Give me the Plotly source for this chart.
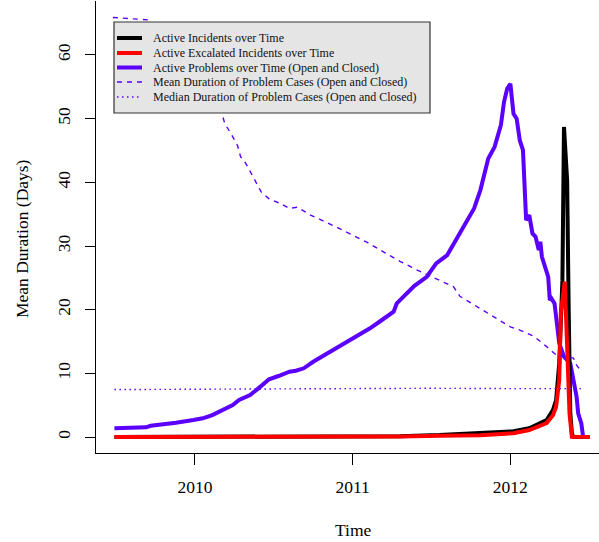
import plotly.graph_objects as go

# ---- data (decimal years, values) ----
problems_t = [2009.49, 2009.69, 2009.72, 2009.82, 2009.88, 2009.99, 2010.05, 2010.11, 2010.18,
              2010.24, 2010.28, 2010.35, 2010.41, 2010.47, 2010.53, 2010.60, 2010.64, 2010.69,
              2010.75, 2010.84, 2010.92, 2011.03, 2011.11, 2011.17, 2011.26, 2011.28, 2011.34,
              2011.39, 2011.47, 2011.53, 2011.60, 2011.66, 2011.70, 2011.77, 2011.81, 2011.84,
              2011.86, 2011.90, 2011.94, 2011.96, 2011.98, 2012.00, 2012.01, 2012.02, 2012.04,
              2012.06, 2012.08, 2012.09, 2012.10, 2012.12, 2012.14, 2012.16, 2012.18, 2012.19,
              2012.20, 2012.22, 2012.24, 2012.25, 2012.26, 2012.28, 2012.29, 2012.31, 2012.34,
              2012.38, 2012.40, 2012.42, 2012.43, 2012.45, 2012.46]
problems_v = [1.37, 1.52, 1.77, 1.99, 2.24, 2.67, 2.94, 3.45, 4.24,
              5.02, 5.81, 6.59, 7.80, 9.06, 9.58, 10.25, 10.41, 10.79,
              11.82, 13.14, 14.18, 15.75, 17.07, 18.10, 19.67, 20.99, 22.56,
              23.71, 25.17, 27.27, 28.57, 31.19, 32.76, 35.90, 38.78, 41.92,
              43.75, 45.57, 48.98, 52.64, 54.74, 55.48, 52.34, 50.77, 49.98,
              46.58, 45.05, 37.72, 34.06, 34.85, 31.97, 31.44, 29.35, 30.66,
              28.30, 26.73, 25.16, 21.50, 21.77, 20.99, 18.88, 14.71, 12.60,
              11.56, 8.93, 6.31, 3.71, 2.14, 0.27]

incidents_t = [2009.49, 2010.5, 2011.0, 2011.3, 2011.55, 2011.81, 2012.02, 2012.12, 2012.23,
               2012.27, 2012.29, 2012.31, 2012.315, 2012.32, 2012.33, 2012.34, 2012.36, 2012.37,
               2012.38, 2012.39, 2012.40, 2012.505]
incidents_v = [0, 0.02, 0.05, 0.12, 0.3, 0.58, 0.9, 1.37, 2.67,
               4.24, 5.8, 11.6, 14.2, 19.5, 24.6, 48.7, 40.3, 19.5,
               3.8, 0.6, 0, 0]

escalated_t = [2009.49, 2010.5, 2011.0, 2011.3, 2011.55, 2011.81, 2012.02, 2012.12, 2012.23,
               2012.27, 2012.29, 2012.31, 2012.32, 2012.345, 2012.36, 2012.375, 2012.39, 2012.505]
escalated_v = [0, 0.01, 0.03, 0.08, 0.2, 0.27, 0.6, 1.1, 2.2,
               3.4, 4.76, 8.95, 19.5, 24.4, 14.2, 3.7, 0.05, 0]

mean_t = [2009.48, 2009.71, 2009.78, 2009.91, 2010.03, 2010.13, 2010.17, 2010.19, 2010.23,
          2010.27, 2010.29, 2010.31, 2010.34, 2010.38, 2010.42, 2010.47, 2010.54, 2010.60,
          2010.65, 2010.73, 2010.84, 2010.92, 2011.01, 2011.09, 2011.20, 2011.30, 2011.41,
          2011.49, 2011.60, 2011.64, 2011.68, 2011.74, 2011.83, 2011.91, 2012.00, 2012.06,
          2012.15, 2012.23, 2012.29, 2012.35, 2012.40, 2012.42, 2012.45]
mean_v = [65.9, 65.5, 63.9, 60.8, 56.8, 52.9, 50.9, 49.2, 47.6,
          45.8, 44.0, 43.5, 42.2, 40.3, 38.5, 37.4, 36.7, 35.9,
          36.1, 34.9, 33.7, 32.7, 31.6, 30.6, 29.0, 27.6, 26.2,
          25.3, 24.1, 23.6, 22.1, 21.2, 19.9, 18.6, 17.3, 16.8,
          15.8, 14.2, 12.9, 12.6, 12.4, 11.3, 10.3]

median_t = [2009.49, 2010.0, 2010.5, 2011.0, 2011.5, 2012.0, 2012.45]
median_v = [7.45, 7.5, 7.6, 7.65, 7.65, 7.6, 7.6]

x_ticks = [2010, 2011, 2012]
x_tick_labels = ["2010", "2011", "2012"]
y_ticks = [0, 10, 20, 30, 40, 50, 60]

legend_labels = ["Active Incidents over Time",
                 "Active Excalated Incidents over Time",
                 "Active Problems over Time (Open and Closed)",
                 "Mean Duration of Problem Cases (Open and Closed)",
                 "Median Duration of Problem Cases (Open and Closed)"]

BLUE = "#5b00ff"
FONT = "Liberation Serif"
styles = {
    "inc": dict(color="black", width=4),
    "esc": dict(color="red", width=4),
    "prob": dict(color=BLUE, width=4),
    "mean": dict(color=BLUE, width=1.4, dash="5px,5px"),
    "med": dict(color=BLUE, width=1.4, dash="1.5px,3.5px"),
}

fig = go.Figure()
fig.add_trace(go.Scatter(x=problems_t, y=problems_v, mode="lines", name=legend_labels[2],
                         line=styles["prob"]))
fig.add_trace(go.Scatter(x=incidents_t, y=incidents_v, mode="lines", name=legend_labels[0],
                         line=styles["inc"]))
fig.add_trace(go.Scatter(x=escalated_t, y=escalated_v, mode="lines", name=legend_labels[1],
                         line=styles["esc"]))
fig.add_trace(go.Scatter(x=mean_t, y=mean_v, mode="lines", name=legend_labels[3],
                         line=styles["mean"]))
fig.add_trace(go.Scatter(x=median_t, y=median_v, mode="lines", name=legend_labels[4],
                         line=styles["med"]))

# ---- R-style legend box (paper coordinates) ----
L, R_, T, B = 96, 599, 1, 453   # plot area in pixels
def px(xp):
    return (xp - L) / (R_ - L)
def py(yp):
    return (B - yp) / (B - T)

shapes = [dict(type="rect", xref="paper", yref="paper",
               x0=px(114), x1=px(430), y0=py(113), y1=py(22),
               fillcolor="#e5e5e5", line=dict(color="#333333", width=1.2), layer="above")]
annotations = []
row_y = [38, 53, 67.5, 82, 97]
keys = ["inc", "esc", "prob", "mean", "med"]
for k, lab, ry in zip(keys, legend_labels, row_y):
    st = dict(styles[k])
    lw = dict(color=st["color"], width=st["width"])
    if "dash" in st:
        lw["dash"] = st["dash"]
    shapes.append(dict(type="line", xref="paper", yref="paper",
                       x0=px(117), x1=px(142), y0=py(ry), y1=py(ry), line=lw, layer="above"))
    annotations.append(dict(text=lab, xref="paper", yref="paper", x=px(151), y=py(ry),
                            xanchor="left", yanchor="middle", showarrow=False,
                            font=dict(family=FONT, size=12, color="#111111")))

annotations += [
    dict(text="Time", xref="paper", yref="paper", x=px(353), y=py(530),
         xanchor="center", yanchor="middle", showarrow=False,
         font=dict(family=FONT, size=17.5, color="black")),
    dict(text="Mean Duration (Days)", xref="paper", yref="paper", x=px(22), y=py(239),
         xanchor="center", yanchor="middle", textangle=-90, showarrow=False,
         font=dict(family=FONT, size=17.5, color="black")),
]

axis_common = dict(showgrid=False, zeroline=False, showline=True, linecolor="black", linewidth=1,
                   ticks="outside", tickcolor="black", tickwidth=1,
                   tickfont=dict(family=FONT, size=17.5, color="black"))

fig.update_layout(
    width=599, height=542,
    margin=dict(l=96, r=0, t=1, b=89),
    paper_bgcolor="white", plot_bgcolor="white",
    font=dict(family=FONT, color="black"),
    xaxis=dict(range=[2009.373, 2012.562], tickvals=x_ticks, ticktext=x_tick_labels,
               ticklen=11, ticklabelstandoff=7, **axis_common),
    yaxis=dict(range=[-2.513, 68.48], tickvals=y_ticks, tickangle=-90,
               ticklen=10, ticklabelstandoff=8, **axis_common),
    showlegend=False,
    hovermode=False,
    shapes=shapes,
    annotations=annotations,
)

fig.write_html("out.html", config={"displayModeBar": False},
               post_script="document.body.style.margin='0';document.body.style.padding='0';")
